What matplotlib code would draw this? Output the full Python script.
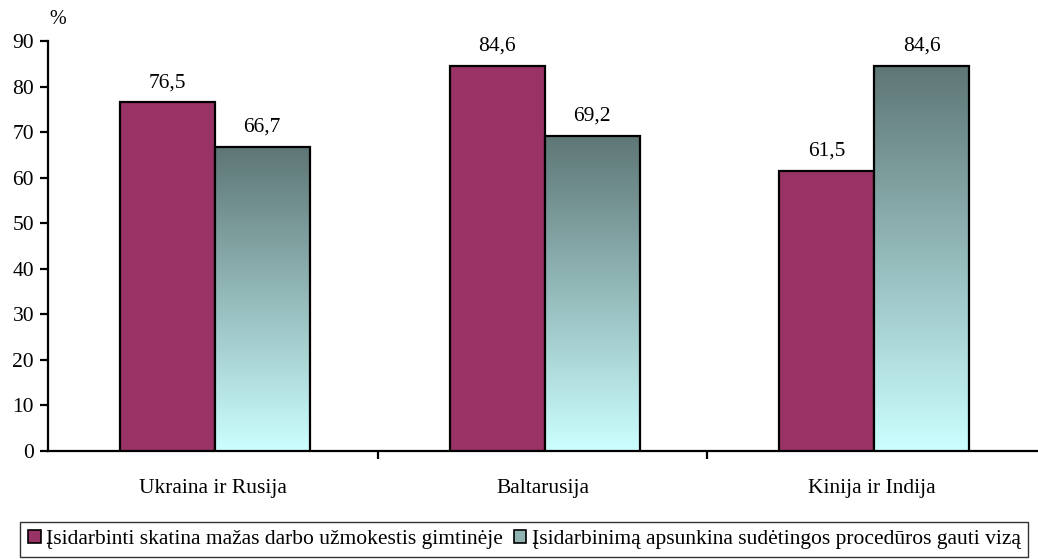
import numpy as np
import matplotlib.pyplot as plt
from matplotlib.colors import LinearSegmentedColormap
from matplotlib.patches import Patch

# Data
categories = ['Ukraina ir Rusija', 'Baltarusija', 'Kinija ir Indija']
low_wage = [76.5, 84.6, 61.5]
visa_procedures = [66.7, 69.2, 84.6]
series_names = ['Įsidarbinti skatina mažas darbo užmokestis gimtinėje',
                'Įsidarbinimą apsunkina sudėtingos procedūros gauti vizą']

plt.rcParams['font.family'] = ['Liberation Serif', 'DejaVu Serif']
fs = 15.5

fig = plt.figure(figsize=(10.38, 5.59), dpi=100)
ax = fig.add_axes([0.0462, 0.1932, 0.953, 0.7335])

maroon = '#993366'
teal_grad = LinearSegmentedColormap.from_list('tg', ['#CCFFFF', '#5E7676'])

x = np.arange(len(categories))
w = 0.288
b1 = ax.bar(x - w / 2 + 0.006, low_wage, w, color=maroon, edgecolor='black', linewidth=1.6,
            label=series_names[0], zorder=3)
b2 = ax.bar(x + w / 2 + 0.006, visa_procedures, w, color='#96BCBC', edgecolor='black', linewidth=1.6,
            label=series_names[1], zorder=3)

# gradient fill for the second series, clipped to each bar
grad = np.linspace(0, 1, 256).reshape(-1, 1)
for bar in b2:
    bx, by = bar.get_x(), bar.get_y()
    bw, bh = bar.get_width(), bar.get_height()
    im = ax.imshow(grad, cmap=teal_grad, origin='lower', aspect='auto',
                   extent=[bx, bx + bw, by, by + bh], zorder=3.5)
    im.set_clip_path(bar)
    bar.set_facecolor('none')
    bar.set_zorder(4)

for bars in (b1, b2):
    for bar in bars:
        ax.annotate(f'{bar.get_height():.1f}'.replace('.', ','),
                    (bar.get_x() + bar.get_width() / 2, bar.get_height()),
                    xytext=(0, 7.5), textcoords='offset points',
                    ha='center', va='bottom', fontsize=fs)

ax.set_xlim(-0.5, 2.5)
ax.set_ylim(0, 90)
ax.set_yticks(range(0, 91, 10))
ax.set_xticks(x)
ax.set_xticklabels(categories, fontsize=fs)
ax.set_xticks([0.5, 1.5], minor=True)
ax.tick_params(axis='x', which='major', length=0, pad=20)
ax.tick_params(axis='x', which='minor', length=6, width=1.6, direction='out')
ax.tick_params(axis='y', length=6, width=1.6, labelsize=fs, pad=4)
for s in ['top', 'right']:
    ax.spines[s].set_visible(False)
for s in ['left', 'bottom']:
    ax.spines[s].set_linewidth(1.6)

fig.text(0.056, 0.966, '%', fontsize=fs - 1, ha='center', va='center')

# legend proxies
h1 = Patch(facecolor=maroon, edgecolor='black', linewidth=1.2)
h2 = Patch(facecolor='#8FB3B3', edgecolor='black', linewidth=1.2)
leg = fig.legend([h1, h2], series_names, loc='center', bbox_to_anchor=(0.505, 0.035),
                 ncol=2, fontsize=fs, frameon=True, fancybox=False, edgecolor='black',
                 handlelength=0.6, handleheight=0.6, handletextpad=0.25, columnspacing=0.5,
                 borderpad=0.35, borderaxespad=0)
leg.get_frame().set_linewidth(1.0)

fig.savefig('out.png', dpi=100)
